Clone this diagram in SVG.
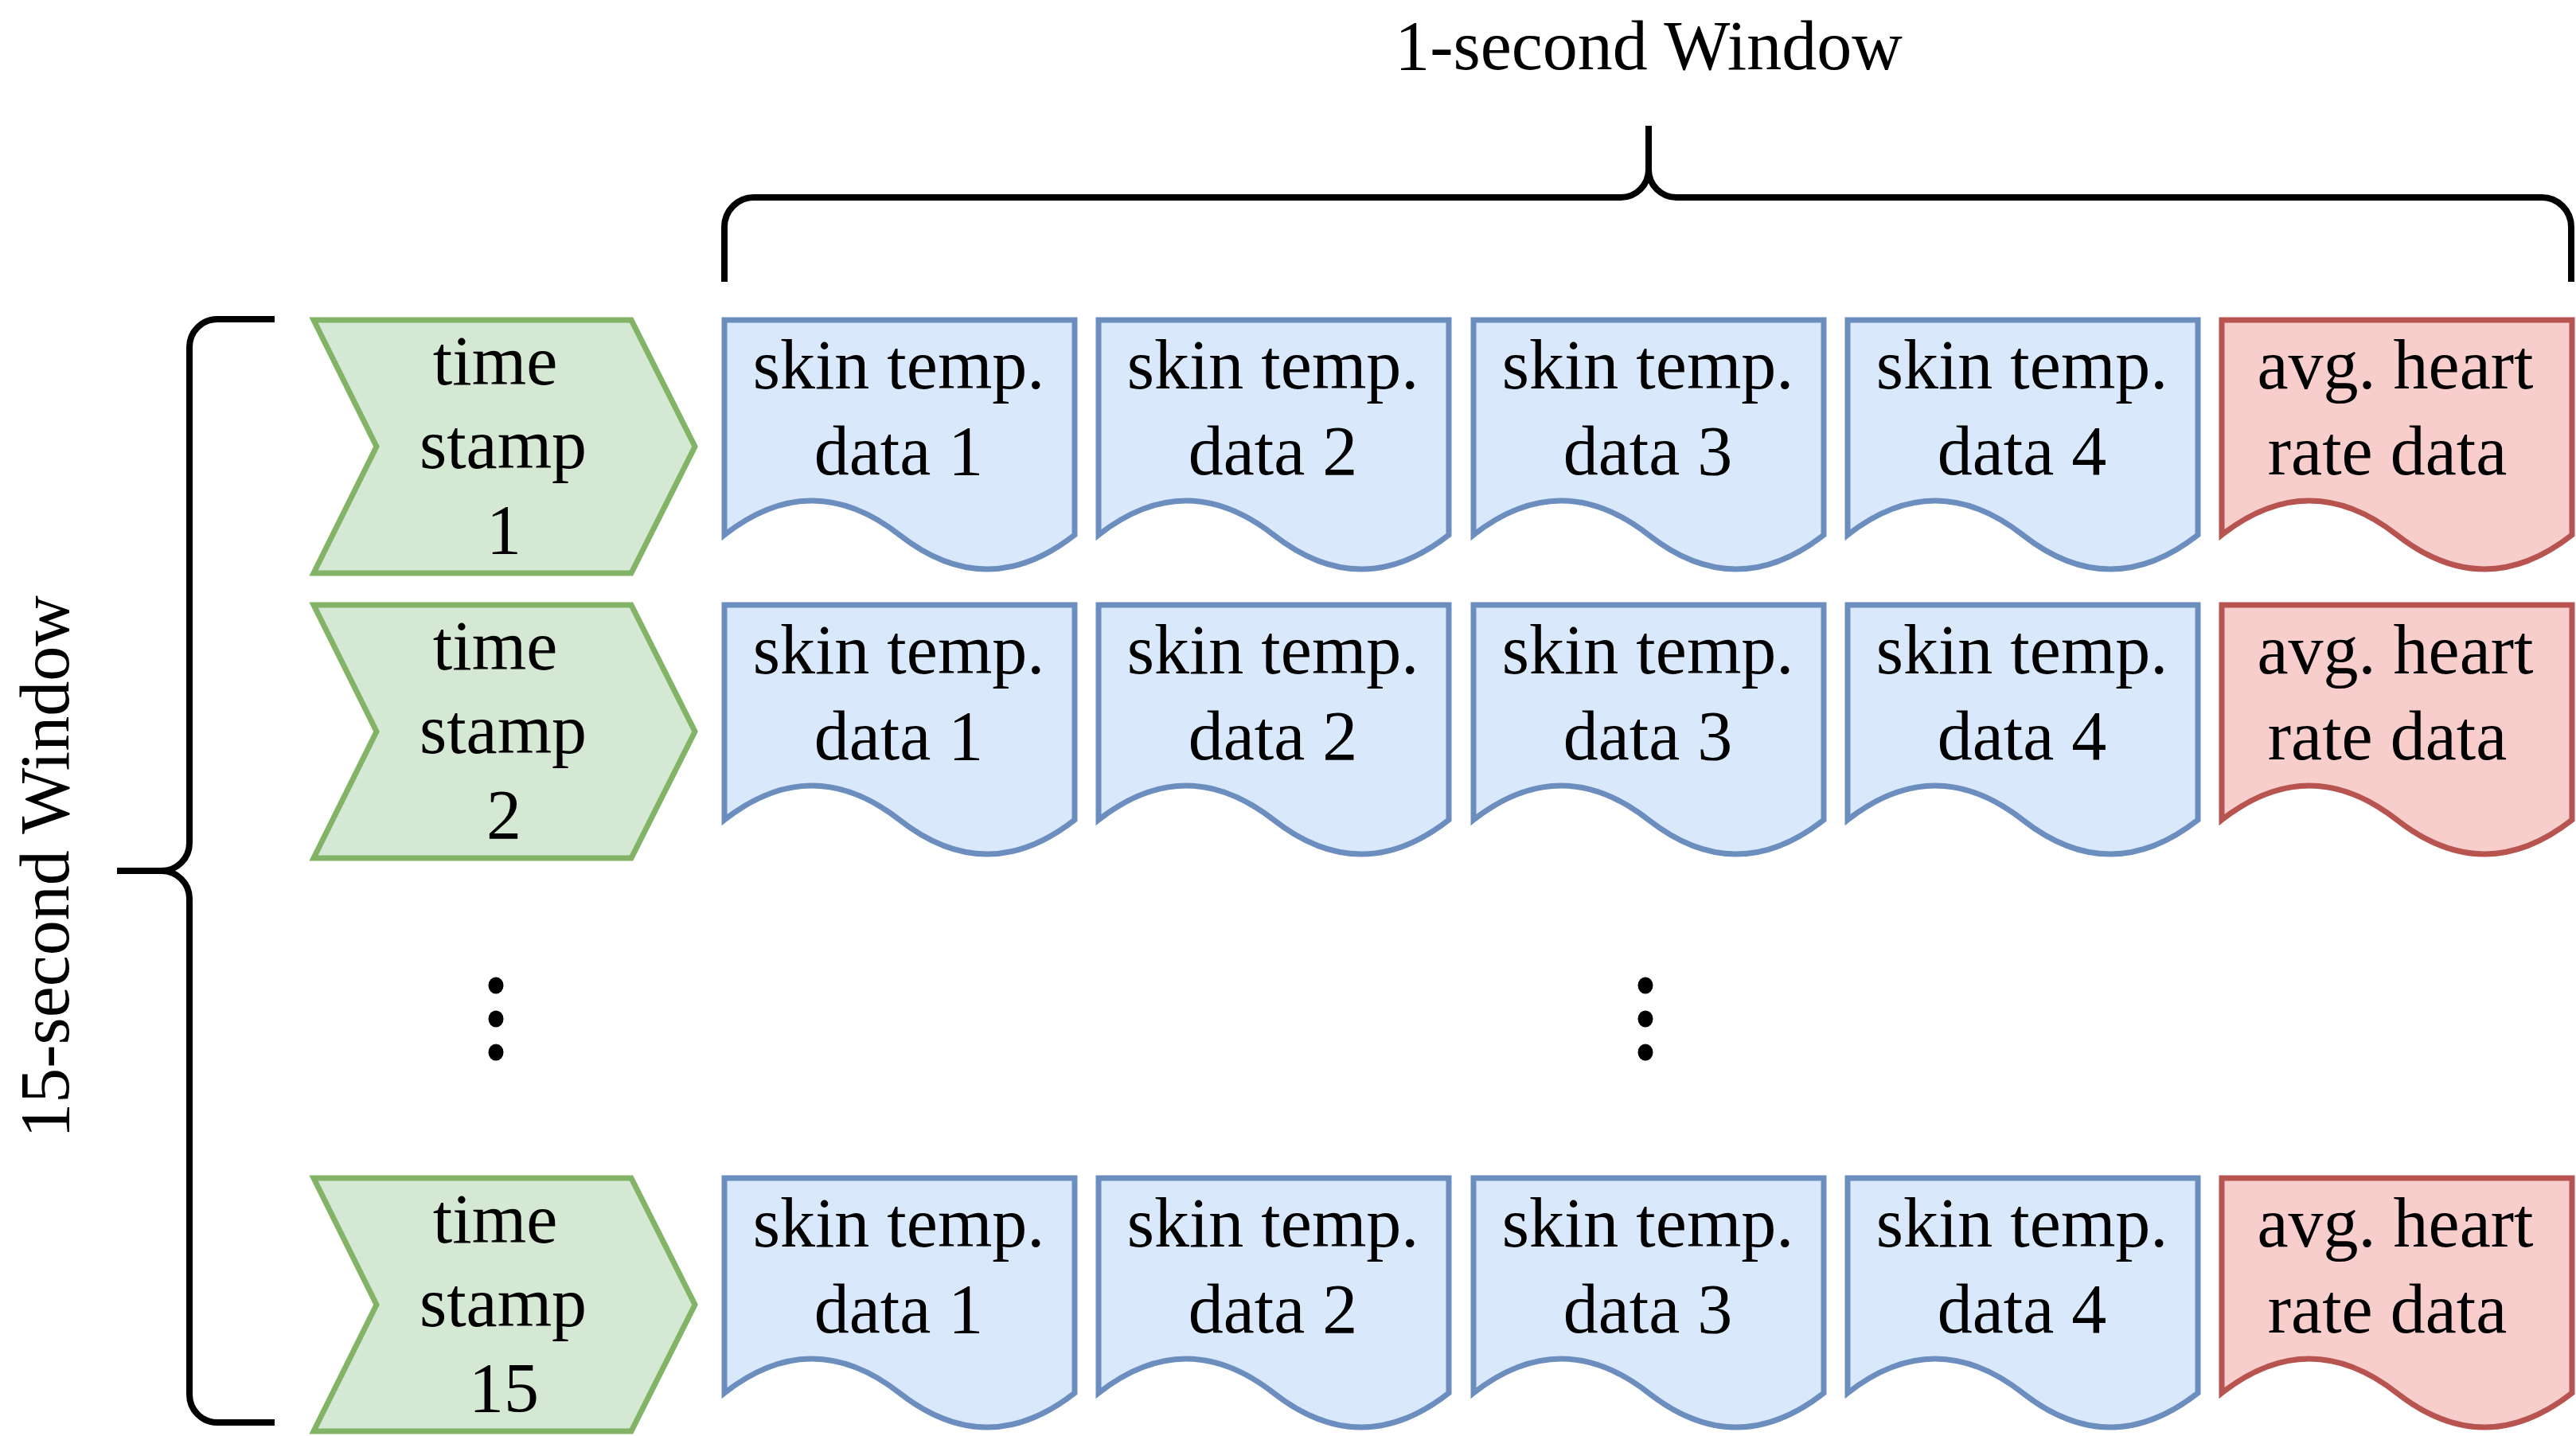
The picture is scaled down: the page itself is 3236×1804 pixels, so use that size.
<svg xmlns="http://www.w3.org/2000/svg" xmlns:xlink="http://www.w3.org/1999/xlink" width="3236" height="1804" viewBox="0 0 3236 1804">
<style>
text{font-family:"Liberation Serif","Times New Roman",serif;font-size:88px;fill:#000;text-anchor:middle}
.g{fill:#d5e8d4;stroke:#82b366;stroke-width:7}
.b{fill:#dae8fc;stroke:#6c8ebf;stroke-width:7}
.r{fill:#f8cecc;stroke:#b85450;stroke-width:7}
.brace{fill:none;stroke:#000;stroke-width:8}
</style>
<defs>
<path id="doc" d="M0 270 V0 H440 V270 Q330 356 220 270 Q110 184 0 270 Z"/>
<path id="step" d="M394 0 H793 L873 159 L793 318 H394 L473 159 Z"/>
</defs>
<rect width="3236" height="1804" fill="#fff"/>
<g id="connectors">
<path id="brace-top" class="brace" d="M910 354 V285 A37 37 0 0 1 947 248 H2036 A35 35 0 0 0 2071 213 V158 M2071 213 A35 35 0 0 0 2106 248 H3193 A37 37 0 0 1 3230 285 V354"/>
<path id="brace-left" class="brace" d="M345 401 H273 A35 35 0 0 0 238 436 V1059 A35 35 0 0 1 203 1094 H147 M147 1094 H203 A35 35 0 0 1 238 1129 V1752 A35 35 0 0 0 273 1787 H345"/>
</g>
<g id="label-1s"><text x="2071" y="87">1-second Window</text></g>
<g id="label-15s"><text transform="translate(86,1089) rotate(-90)">15-second Window</text></g>

<g id="ts1"><use xlink:href="#step" class="g" y="402"/><text x="622" y="483">time</text><text x="632" y="588">stamp</text><text x="633" y="695">1</text></g>
<g id="ts2"><use xlink:href="#step" class="g" y="760"/><text x="622" y="841">time</text><text x="632" y="946">stamp</text><text x="633" y="1053">2</text></g>
<g id="ts15"><use xlink:href="#step" class="g" y="1480"/><text x="622" y="1561">time</text><text x="632" y="1666">stamp</text><text x="633" y="1773">15</text></g>

<g id="r1d1"><use xlink:href="#doc" class="b" x="910" y="402"/><text x="1129" y="488">skin temp.</text><text x="1129" y="596">data 1</text></g>
<g id="r1d2"><use xlink:href="#doc" class="b" x="1380" y="402"/><text x="1599" y="488">skin temp.</text><text x="1599" y="596">data 2</text></g>
<g id="r1d3"><use xlink:href="#doc" class="b" x="1851" y="402"/><text x="2070" y="488">skin temp.</text><text x="2070" y="596">data 3</text></g>
<g id="r1d4"><use xlink:href="#doc" class="b" x="2321" y="402"/><text x="2540" y="488">skin temp.</text><text x="2540" y="596">data 4</text></g>
<g id="r1hr"><use xlink:href="#doc" class="r" x="2791" y="402"/><text x="3009" y="488">avg. heart</text><text x="2999" y="596">rate data</text></g>

<g id="r2d1"><use xlink:href="#doc" class="b" x="910" y="760"/><text x="1129" y="846">skin temp.</text><text x="1129" y="954">data 1</text></g>
<g id="r2d2"><use xlink:href="#doc" class="b" x="1380" y="760"/><text x="1599" y="846">skin temp.</text><text x="1599" y="954">data 2</text></g>
<g id="r2d3"><use xlink:href="#doc" class="b" x="1851" y="760"/><text x="2070" y="846">skin temp.</text><text x="2070" y="954">data 3</text></g>
<g id="r2d4"><use xlink:href="#doc" class="b" x="2321" y="760"/><text x="2540" y="846">skin temp.</text><text x="2540" y="954">data 4</text></g>
<g id="r2hr"><use xlink:href="#doc" class="r" x="2791" y="760"/><text x="3009" y="846">avg. heart</text><text x="2999" y="954">rate data</text></g>

<g id="r15d1"><use xlink:href="#doc" class="b" x="910" y="1480"/><text x="1129" y="1566">skin temp.</text><text x="1129" y="1674">data 1</text></g>
<g id="r15d2"><use xlink:href="#doc" class="b" x="1380" y="1480"/><text x="1599" y="1566">skin temp.</text><text x="1599" y="1674">data 2</text></g>
<g id="r15d3"><use xlink:href="#doc" class="b" x="1851" y="1480"/><text x="2070" y="1566">skin temp.</text><text x="2070" y="1674">data 3</text></g>
<g id="r15d4"><use xlink:href="#doc" class="b" x="2321" y="1480"/><text x="2540" y="1566">skin temp.</text><text x="2540" y="1674">data 4</text></g>
<g id="r15hr"><use xlink:href="#doc" class="r" x="2791" y="1480"/><text x="3009" y="1566">avg. heart</text><text x="2999" y="1674">rate data</text></g>

<g id="dots-left" fill="#000"><ellipse cx="623" cy="1238" rx="9.5" ry="10.5"/><ellipse cx="623" cy="1280" rx="9.5" ry="10.5"/><ellipse cx="623" cy="1322" rx="9.5" ry="10.5"/></g>
<g id="dots-right" fill="#000"><ellipse cx="2067" cy="1238" rx="9.5" ry="10.5"/><ellipse cx="2067" cy="1280" rx="9.5" ry="10.5"/><ellipse cx="2067" cy="1322" rx="9.5" ry="10.5"/></g>
</svg>
